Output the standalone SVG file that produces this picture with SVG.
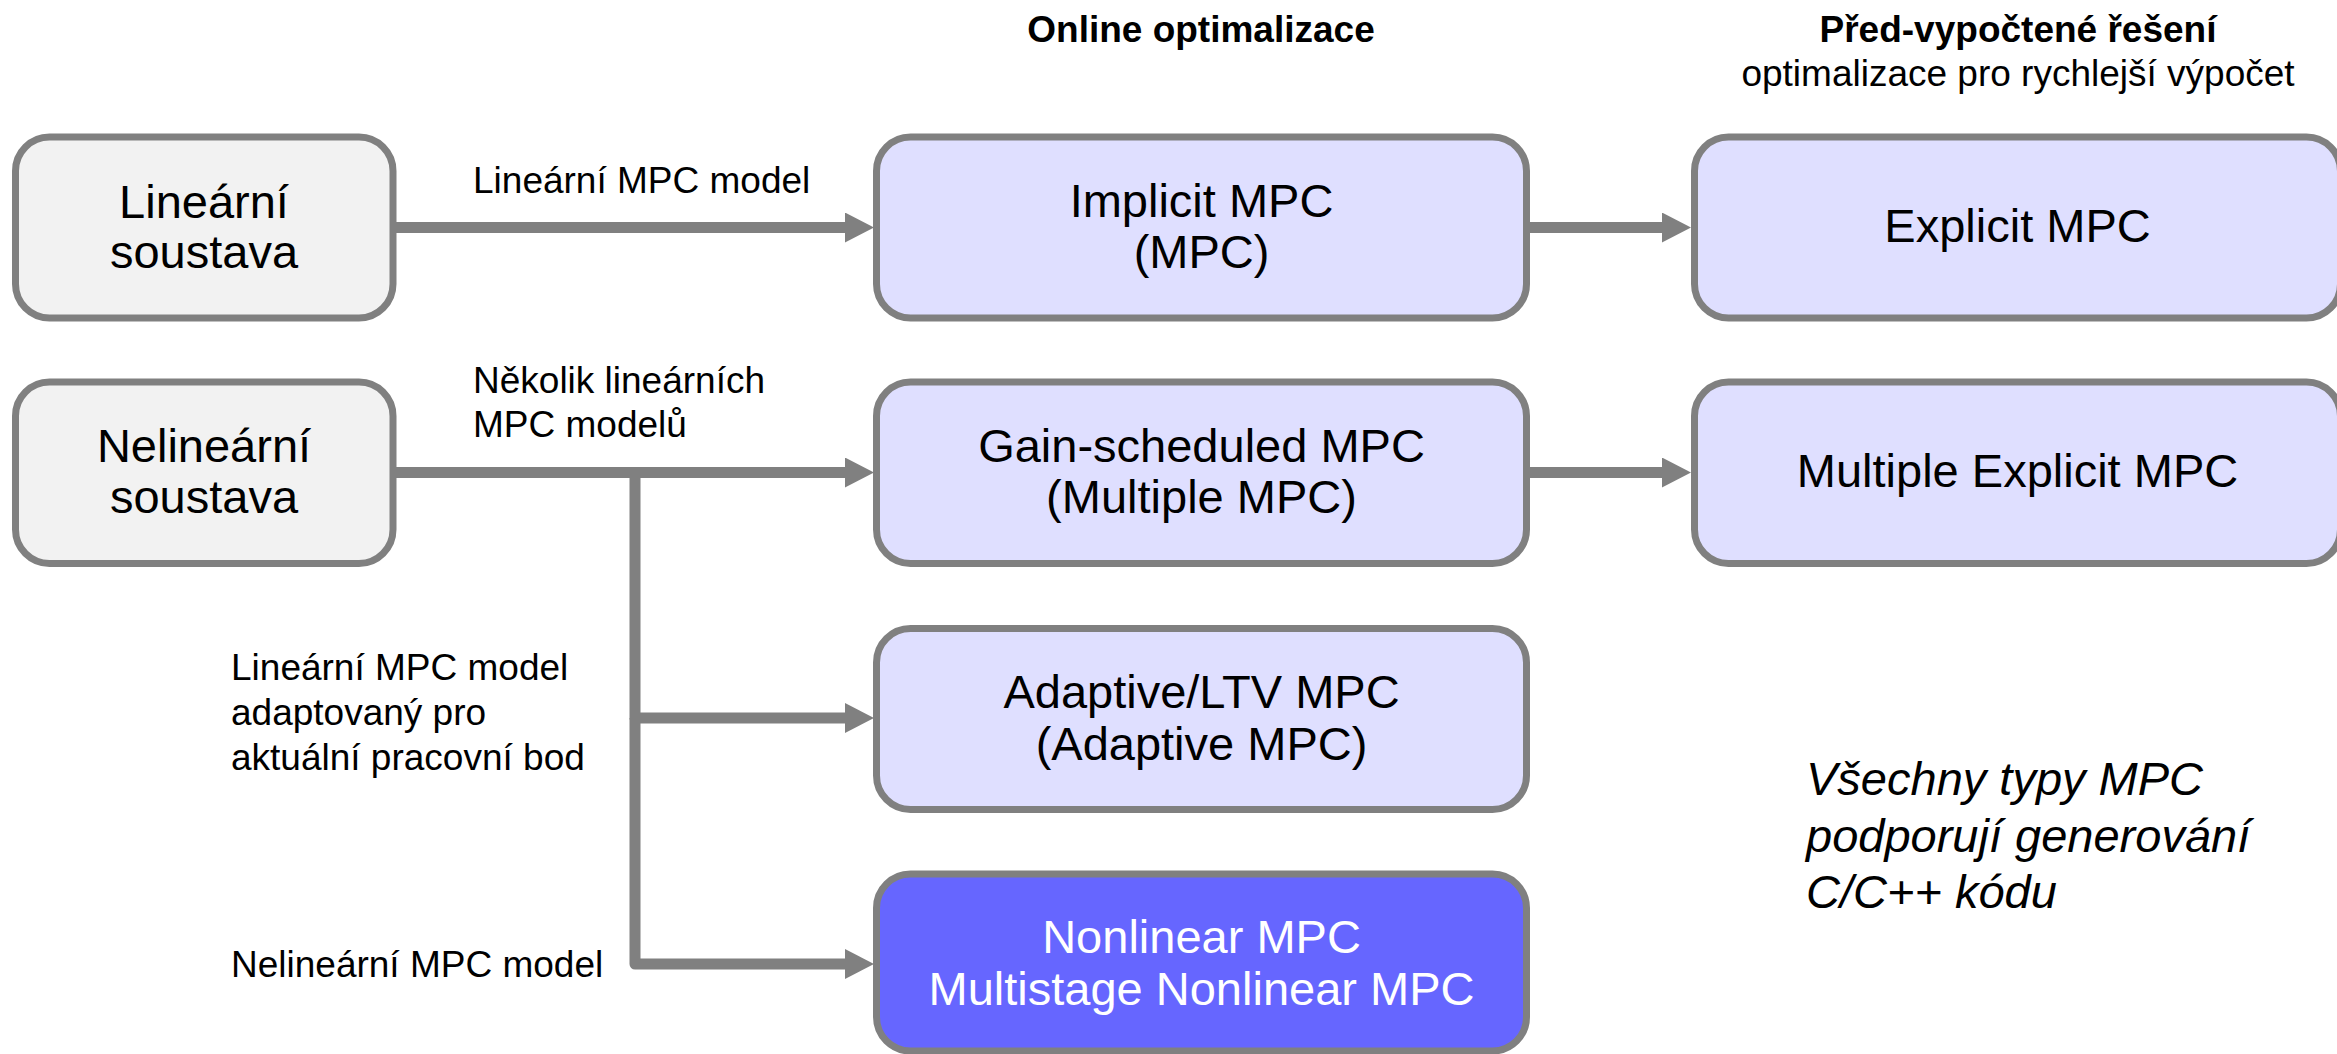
<svg xmlns="http://www.w3.org/2000/svg" width="2337" height="1054" viewBox="0 0 2337 1054">
<style>
  .box { stroke: #808080; stroke-width: 7; }
  .src { fill: #F2F2F2; }
  .mpc { fill: #DFDFFF; }
  .nl { fill: #6666FF; }
  .nt { font-family: "Liberation Sans", Arial, sans-serif; font-size: 47px; fill: #000; text-anchor: middle; }
  .white { fill: #FFFFFF; }
  .lbl { font-family: "Liberation Sans", Arial, sans-serif; font-size: 37px; fill: #000; }
  .hdr { font-family: "Liberation Sans", Arial, sans-serif; font-size: 37px; font-weight: bold; fill: #000; text-anchor: middle; }
  .sub { font-family: "Liberation Sans", Arial, sans-serif; font-size: 37px; fill: #000; text-anchor: middle; }
  .note { font-family: "Liberation Sans", Arial, sans-serif; font-size: 47px; font-style: italic; fill: #000; }
  .con { fill: none; stroke: #808080; stroke-width: 11; stroke-linejoin: round; }
</style>
<defs>
  <marker id="arrow" markerUnits="userSpaceOnUse" markerWidth="30" markerHeight="30" refX="0" refY="15" orient="auto">
    <path d="M0,0 L29,15 L0,30 Z" fill="#808080"/>
  </marker>
</defs>
<rect width="2337" height="1054" fill="#FFFFFF"/>

<g id="headers">
  <text class="hdr" x="1201" y="42">Online optimalizace</text>
  <text class="hdr" x="2018" y="42">Před-vypočtené řešení</text>
  <text class="sub" x="2018" y="86">optimalizace pro rychlejší výpočet</text>
</g>

<g id="connectors">
  <path class="con" d="M396,227.5 H845" marker-end="url(#arrow)"/>
  <path class="con" d="M1530,227.5 H1662" marker-end="url(#arrow)"/>
  <path class="con" d="M396,472.5 H845" marker-end="url(#arrow)"/>
  <path class="con" d="M1530,472.5 H1662" marker-end="url(#arrow)"/>
  <path class="con" d="M635,472.5 V718 H845" marker-end="url(#arrow)"/>
  <path class="con" d="M635,718 V964 H845" marker-end="url(#arrow)"/>
</g>

<g id="edge-labels">
  <text class="lbl" x="473" y="193">Lineární MPC model</text>
  <text class="lbl" x="473" y="393">Několik lineárních</text>
  <text class="lbl" x="473" y="437">MPC modelů</text>
  <text class="lbl" x="231" y="680">Lineární MPC model</text>
  <text class="lbl" x="231" y="725">adaptovaný pro</text>
  <text class="lbl" x="231" y="770">aktuální pracovní bod</text>
  <text class="lbl" x="231" y="977">Nelineární MPC model</text>
</g>

<g id="node-linear-system">
  <rect class="box src" x="15.5" y="137" width="377.5" height="181" rx="34" ry="34"/>
  <text class="nt" x="204" y="218">Lineární</text>
  <text class="nt" x="204" y="268">soustava</text>
</g>

<g id="node-nonlinear-system">
  <rect class="box src" x="15.5" y="382" width="377.5" height="181.5" rx="34" ry="34"/>
  <text class="nt" x="204" y="462">Nelineární</text>
  <text class="nt" x="204" y="513">soustava</text>
</g>

<g id="node-implicit-mpc">
  <rect class="box mpc" x="876.5" y="137" width="650" height="181" rx="34" ry="34"/>
  <text class="nt" x="1201.5" y="217">Implicit MPC</text>
  <text class="nt" x="1201.5" y="268">(MPC)</text>
</g>

<g id="node-gain-scheduled-mpc">
  <rect class="box mpc" x="876.5" y="382" width="650" height="181.5" rx="34" ry="34"/>
  <text class="nt" x="1201.5" y="462">Gain-scheduled MPC</text>
  <text class="nt" x="1201.5" y="513">(Multiple MPC)</text>
</g>

<g id="node-adaptive-mpc">
  <rect class="box mpc" x="876.5" y="628.5" width="650" height="181" rx="34" ry="34"/>
  <text class="nt" x="1201.5" y="708">Adaptive/LTV MPC</text>
  <text class="nt" x="1201.5" y="760">(Adaptive MPC)</text>
</g>

<g id="node-nonlinear-mpc">
  <rect class="box nl" x="876.5" y="874" width="650" height="177" rx="34" ry="34"/>
  <text class="nt white" x="1201.5" y="953">Nonlinear MPC</text>
  <text class="nt white" x="1201.5" y="1005">Multistage Nonlinear MPC</text>
</g>

<g id="node-explicit-mpc">
  <rect class="box mpc" x="1694.5" y="137" width="646" height="181" rx="34" ry="34"/>
  <text class="nt" x="2017.5" y="242">Explicit MPC</text>
</g>

<g id="node-multiple-explicit-mpc">
  <rect class="box mpc" x="1694.5" y="382" width="646" height="181.5" rx="34" ry="34"/>
  <text class="nt" x="2017.5" y="487">Multiple Explicit MPC</text>
</g>

<g id="note">
  <text class="note" x="1806" y="795">Všechny typy MPC</text>
  <text class="note" x="1806" y="852">podporují generování</text>
  <text class="note" x="1806" y="908">C/C++ kódu</text>
</g>
</svg>
